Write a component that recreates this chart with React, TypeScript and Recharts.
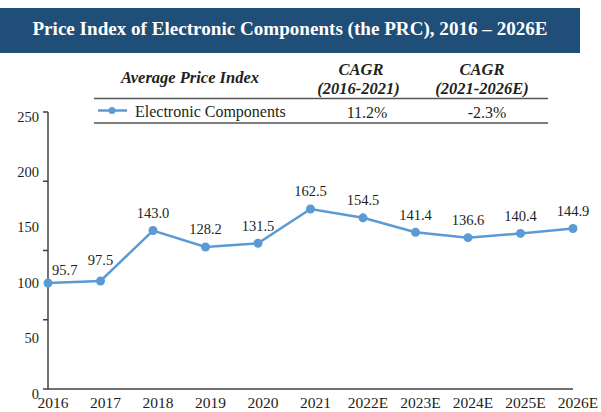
import { LabelList, Line, LineChart, XAxis, YAxis } from "recharts";

const years = ["2016", "2017", "2018", "2019", "2020", "2021", "2022E", "2023E", "2024E", "2025E", "2026E"];
const priceIndex = [95.7, 97.5, 143.0, 128.2, 131.5, 162.5, 154.5, 141.4, 136.6, 140.4, 144.9];
const yLabelTicks = [0, 50, 100, 150, 200, 250];
const yMarkTicks = [0, 62.5, 125, 187.5, 250];
const seriesName = "Electronic Components";
const cagrPeriods = ["(2016-2021)", "(2021-2026E)"];
const cagrValues = ["11.2%", "-2.3%"];

const FONT = '"Liberation Serif", "Times New Roman", serif';
const BLUE = "#5b9bd5";
const INK = "#231f20";
const AXIS = "#404040";

const chartData = years.map((year, i) => ({ year, value: priceIndex[i] }));
const allYTicks = Array.from(new Set([...yLabelTicks, ...yMarkTicks])).sort((a, b) => a - b);

interface TickProps {
  x?: number;
  y?: number;
  payload?: { value: string | number };
}

function XTick({ x = 0, y = 0, payload }: TickProps) {
  return (
    <text x={x + 5} y={y + 19} textAnchor="middle" fontFamily={FONT} fontSize={15.5} fill={INK}>
      {payload?.value}
    </text>
  );
}

function YTick({ x = 0, y = 0, payload }: TickProps) {
  const v = Number(payload?.value);
  return (
    <g>
      {yMarkTicks.includes(v) && <line x1={x - 5} x2={x} y1={y} y2={y} stroke={AXIS} strokeWidth={1.5} />}
      {yLabelTicks.includes(v) && (
        <text x={x - 9} y={y + 9.5} textAnchor="end" fontFamily={FONT} fontSize={14.5} fill={INK}>
          {v}
        </text>
      )}
    </g>
  );
}

interface PointLabelProps {
  x?: number | string;
  y?: number | string;
  value?: number | string;
  index?: number;
}

// first two labels sit beside / higher so they clear the line
function PointLabel({ x, y, value, index }: PointLabelProps) {
  const px = Number(x);
  const py = Number(y);
  const first = index === 0;
  const dy = first ? -8 : index === 1 ? -16 : -12.5;
  return (
    <text
      x={first ? px + 4 : px}
      y={py + dy}
      textAnchor={first ? "start" : "middle"}
      fontFamily={FONT}
      fontSize={14.5}
      fill={INK}
    >
      {Number(value).toFixed(1)}
    </text>
  );
}

export default function App() {
  return (
    <div style={{ position: "absolute", left: 0, top: 0, width: 601, height: 412, background: "#fff" }}>
      <LineChart width={601} height={412} data={chartData} margin={{ top: 112, right: 28, left: 8, bottom: 0 }}>
        <XAxis
          dataKey="year"
          height={23}
          interval={0}
          tickSize={0}
          tickMargin={0}
          tickLine={false}
          axisLine={{ stroke: AXIS, strokeWidth: 1.5 }}
          tick={<XTick />}
        />
        <YAxis
          width={40}
          domain={[0, 250]}
          ticks={allYTicks}
          interval={0}
          tickSize={0}
          tickMargin={0}
          tickLine={false}
          axisLine={{ stroke: AXIS, strokeWidth: 1.5 }}
          tick={<YTick />}
        />
        <Line
          dataKey="value"
          stroke={BLUE}
          strokeWidth={2.5}
          dot={{ r: 4.5, fill: BLUE, stroke: BLUE, strokeWidth: 0 }}
          isAnimationActive={false}
        >
          <LabelList dataKey="value" content={<PointLabel />} />
        </Line>
      </LineChart>

      <svg width={601} height={130} style={{ position: "absolute", left: 0, top: 0, pointerEvents: "none" }}>
        <rect x={0} y={8} width={580} height={45} fill="#1f4e79" />
        <text x={290} y={35} textAnchor="middle" fontFamily={FONT} fontSize={19.1} fontWeight="bold" fill="#fff">
          Price Index of Electronic Components (the PRC), 2016 – 2026E
        </text>

        <g fontFamily={FONT} fontWeight="bold" fontStyle="italic" fontSize={16.5} fill={INK} textAnchor="middle">
          <text x={190} y={83}>Average Price Index</text>
          <text x={361} y={75}>CAGR</text>
          <text x={358.5} y={94}>{cagrPeriods[0]}</text>
          <text x={482} y={75}>CAGR</text>
          <text x={482} y={94}>{cagrPeriods[1]}</text>
        </g>

        <line x1={94} x2={548} y1={98.5} y2={98.5} stroke="#555" strokeWidth={1.3} />
        <line x1={94} x2={548} y1={123} y2={123} stroke="#555" strokeWidth={1.3} />

        <line x1={98} x2={127} y1={110.5} y2={110.5} stroke={BLUE} strokeWidth={2.5} />
        <circle cx={112} cy={110.5} r={3.5} fill={BLUE} />
        <g fontFamily={FONT} fontSize={16} fill={INK}>
          <text x={135} y={117}>{seriesName}</text>
          <text x={367} y={118} textAnchor="middle">{cagrValues[0]}</text>
          <text x={487} y={118} textAnchor="middle">{cagrValues[1]}</text>
        </g>
      </svg>
    </div>
  );
}
